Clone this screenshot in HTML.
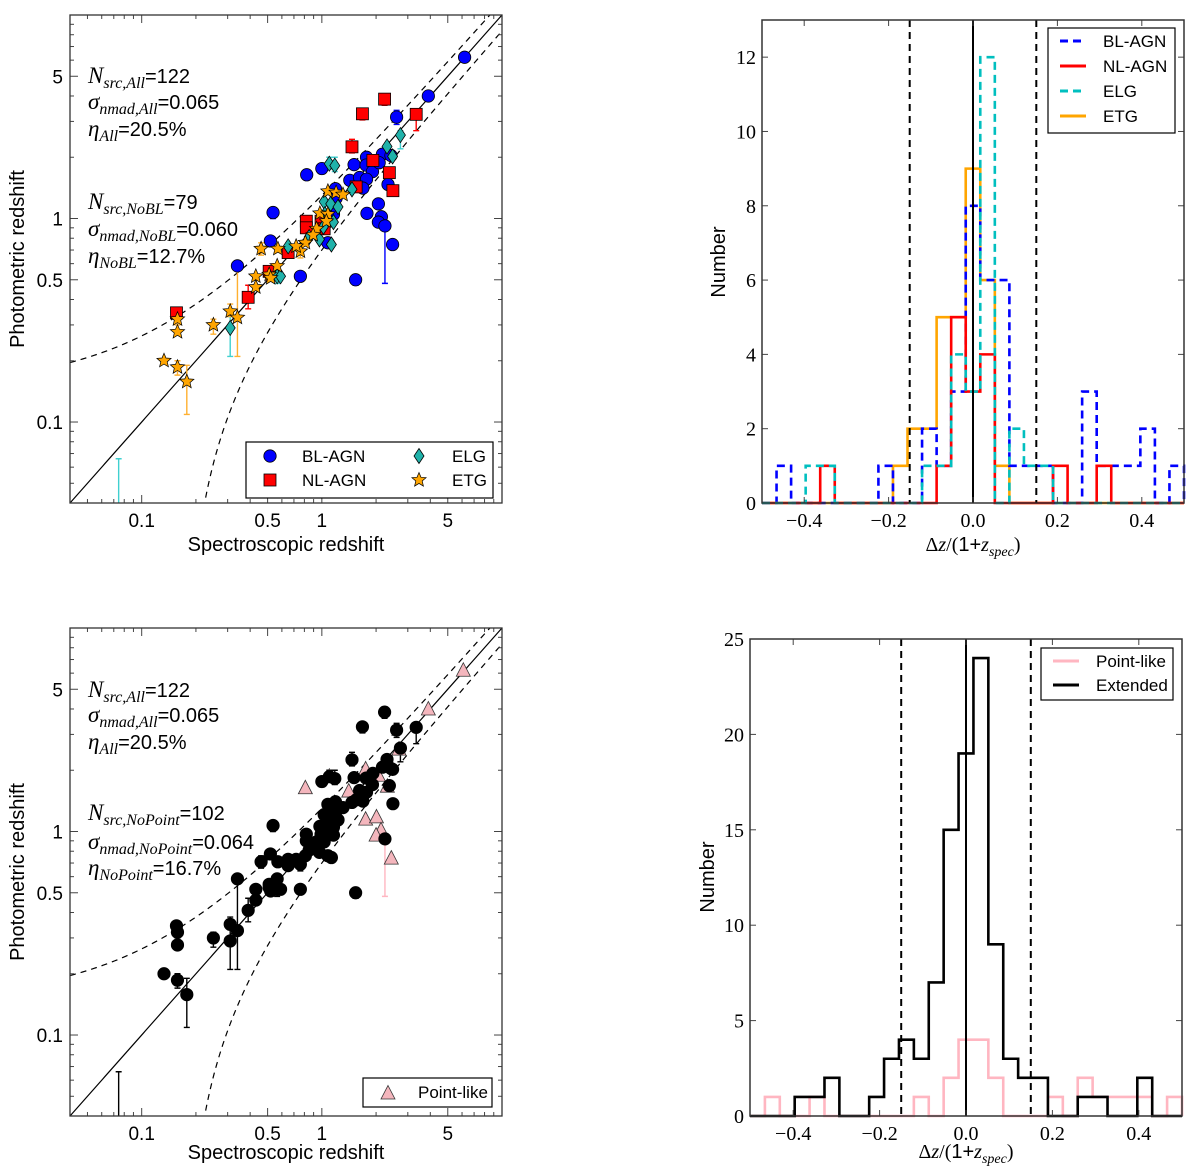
<!DOCTYPE html>
<html><head><meta charset="utf-8"><style>
html,body{margin:0;padding:0;background:#fff;width:1200px;height:1175px;overflow:hidden;}
svg{display:block;overflow:hidden;}
text{font-family:"Liberation Sans",sans-serif;}
.serif{font-family:"Liberation Serif",serif;}
</style></head><body>
<svg id="fig" xmlns="http://www.w3.org/2000/svg" width="1200" height="1175" viewBox="0 0 1200 1175">
<g id="pA"></g>
<g id="pB"></g>
<g id="pC"></g>
<g id="pD"></g>

<g font-size="20">
<text x="88" y="83"><tspan class="serif" font-style="italic" font-size="23">N</tspan><tspan class="serif" font-style="italic" font-size="16" dy="5">src,All</tspan><tspan dy="-5">=122</tspan></text>
<text x="88" y="109"><tspan class="serif" font-style="italic" font-size="23">σ</tspan><tspan class="serif" font-style="italic" font-size="16" dy="5">nmad,All</tspan><tspan dy="-5">=0.065</tspan></text>
<text x="88" y="136"><tspan class="serif" font-style="italic" font-size="23">η</tspan><tspan class="serif" font-style="italic" font-size="16" dy="5">All</tspan><tspan dy="-5">=20.5%</tspan></text>
<text x="88" y="209"><tspan class="serif" font-style="italic" font-size="23">N</tspan><tspan class="serif" font-style="italic" font-size="16" dy="5">src,NoBL</tspan><tspan dy="-5">=79</tspan></text>
<text x="88" y="236"><tspan class="serif" font-style="italic" font-size="23">σ</tspan><tspan class="serif" font-style="italic" font-size="16" dy="5">nmad,NoBL</tspan><tspan dy="-5">=0.060</tspan></text>
<text x="88" y="263"><tspan class="serif" font-style="italic" font-size="23">η</tspan><tspan class="serif" font-style="italic" font-size="16" dy="5">NoBL</tspan><tspan dy="-5">=12.7%</tspan></text>
</g>
<g font-size="20">
<text x="88" y="697"><tspan class="serif" font-style="italic" font-size="23">N</tspan><tspan class="serif" font-style="italic" font-size="16" dy="5">src,All</tspan><tspan dy="-5">=122</tspan></text>
<text x="88" y="722"><tspan class="serif" font-style="italic" font-size="23">σ</tspan><tspan class="serif" font-style="italic" font-size="16" dy="5">nmad,All</tspan><tspan dy="-5">=0.065</tspan></text>
<text x="88" y="749"><tspan class="serif" font-style="italic" font-size="23">η</tspan><tspan class="serif" font-style="italic" font-size="16" dy="5">All</tspan><tspan dy="-5">=20.5%</tspan></text>
<text x="88" y="820"><tspan class="serif" font-style="italic" font-size="23">N</tspan><tspan class="serif" font-style="italic" font-size="16" dy="5">src,NoPoint</tspan><tspan dy="-5">=102</tspan></text>
<text x="88" y="849"><tspan class="serif" font-style="italic" font-size="23">σ</tspan><tspan class="serif" font-style="italic" font-size="16" dy="5">nmad,NoPoint</tspan><tspan dy="-5">=0.064</tspan></text>
<text x="88" y="875"><tspan class="serif" font-style="italic" font-size="23">η</tspan><tspan class="serif" font-style="italic" font-size="16" dy="5">NoPoint</tspan><tspan dy="-5">=16.7%</tspan></text>
</g>

<text x="286" y="551" text-anchor="middle" font-size="20">Spectroscopic redshift</text>
<text x="286" y="1159" text-anchor="middle" font-size="20">Spectroscopic redshift</text>
<text transform="translate(24,259) rotate(-90)" text-anchor="middle" font-size="20">Photometric redshift</text>
<text transform="translate(24,872) rotate(-90)" text-anchor="middle" font-size="20">Photometric redshift</text>
<text transform="translate(725,262) rotate(-90)" text-anchor="middle" font-size="20">Number</text>
<text transform="translate(714,877) rotate(-90)" text-anchor="middle" font-size="20">Number</text>
<text x="973" y="551" text-anchor="middle" font-size="20"><tspan class="serif">Δ</tspan><tspan class="serif" font-style="italic">z</tspan><tspan class="serif">/(</tspan><tspan>1+</tspan><tspan class="serif" font-style="italic">z</tspan><tspan class="serif" font-style="italic" font-size="14" dy="5">spec</tspan><tspan class="serif" dy="-5">)</tspan></text>
<text x="966" y="1158" text-anchor="middle" font-size="20"><tspan class="serif">Δ</tspan><tspan class="serif" font-style="italic">z</tspan><tspan class="serif">/(</tspan><tspan>1+</tspan><tspan class="serif" font-style="italic">z</tspan><tspan class="serif" font-style="italic" font-size="14" dy="5">spec</tspan><tspan class="serif" dy="-5">)</tspan></text>
</svg>
<script>
// ---------- scatter data ----------
const blZs=[6.2,3.9,2.6,1.77,2.17,2.42,1.51,1.76,1.91,2.08,1.43,1.62,1.77,1.69,2.33,0.824,1.0,1.19,1.20,1.16,1.08,2.06,1.78,2.14,2.06,2.24,2.47,1.54,0.76,0.536,0.518,0.34];
const blZp=[6.2,4.0,3.15,2.0,2.07,2.04,1.84,1.83,1.70,1.88,1.54,1.59,1.56,1.41,1.47,1.64,1.76,1.40,1.26,1.05,0.76,1.18,1.06,1.02,0.96,0.92,0.745,0.50,0.52,1.07,0.776,0.585];
const nlZs=[2.23,1.68,3.34,1.47,1.92,2.37,2.48,1.55,0.82,0.82,0.99,1.03,0.65,0.51,0.39,0.156];
const nlZp=[3.86,3.27,3.25,2.25,1.93,1.68,1.37,1.43,0.97,0.90,0.97,0.89,0.68,0.55,0.41,0.344];
const elgZs=[2.73,2.30,2.47,1.10,1.18,1.47,1.03,1.12,1.23,1.04,1.16,1.02,0.97,1.13,0.65,0.85,0.565,0.59,0.31];
const elgZp=[2.57,2.26,2.02,1.86,1.82,1.39,1.21,1.18,1.14,1.05,0.96,0.91,0.79,0.745,0.73,0.81,0.52,0.52,0.29];
const etgZs=[1.08,1.2,1.31,0.975,1.08,1.06,0.935,0.895,0.81,0.76,0.72,0.46,0.57,0.565,0.51,0.52,0.43,0.43,0.31,0.34,0.25,0.158,0.158,0.133,0.158,0.178];
const etgZp=[1.36,1.34,1.31,1.06,1.05,0.97,0.89,0.83,0.76,0.69,0.73,0.71,0.71,0.585,0.53,0.51,0.52,0.46,0.35,0.326,0.30,0.32,0.277,0.20,0.186,0.158];
const blPointIdx=[0,1,3,9,10,14,15,21,22,23,24,26];
const ptZs=[6.1,3.9,2.68,0.81,1.10,1.41,1.75,2.06,2.31,1.75,2.01,2.13,2.0,2.43];
const ptZp=[6.2,4.0,2.54,1.64,1.87,1.58,2.03,1.89,1.67,1.15,1.18,1.02,0.96,0.74];
const ebCat=['bl','bl','bl','bl','nl','nl','nl','nl','nl','nl','elg','elg','elg','elg','elg','elg','etg','etg','etg','etg','etg','etg','etg','etg'];
const ebX=[2.6,2.24,1.54,0.535,2.23,1.68,3.34,1.47,0.39,0.51,2.73,1.10,1.18,0.31,0.0745,0.565,0.34,0.178,0.46,0.25,0.158,0.158,0.31,0.76];
const ebLo=[2.9,0.48,0.47,1.0,3.6,3.05,2.7,2.1,0.36,0.5,2.2,1.75,1.7,0.21,0.02,0.48,0.21,0.109,0.66,0.27,0.3,0.17,0.33,0.64];
const ebHi=[3.4,0.95,0.53,1.07,4.1,3.4,3.4,2.45,0.47,0.58,2.7,2.0,2.0,0.33,0.066,0.56,0.6,0.19,0.76,0.32,0.34,0.2,0.38,0.72];
const ebPointLower=[false,true,false,false,false,false,false,false,false,false,false,false,false,false,false,false,false,false,false,false,false,false,false,false];
const logTickVals=[0.1,0.5,1,5];
const logTickLabels=['0.1','0.5','1','5'];
// ---------- histogram data (29 bins over [-0.5,0.5]) ----------
const nBins=29, histMin=-0.5, histMax=0.5;
const histBL =[0,1,0,0,0,0,0,0,1,0,0,2,1,3,8,6,6,1,1,1,0,0,3,1,1,1,2,0,1];
const histNL =[0,0,0,0,1,0,0,0,0,0,0,0,1,5,3,4,0,0,0,0,1,0,0,1,0,0,0,0,0];
const histELG=[0,0,0,1,1,0,0,0,0,0,0,1,1,4,3,12,0,2,1,1,0,0,0,0,0,0,0,0,0];
const histETG=[0,0,0,0,0,0,0,0,0,1,2,2,5,5,9,6,1,0,0,0,0,0,0,0,0,0,0,0,0];
const histPoint=[0,1,0,0,1,0,0,0,0,0,0,1,0,2,4,4,2,0,0,0,1,0,2,1,1,1,1,0,1];
const histExt  =[0,0,0,1,1,2,0,0,1,3,4,3,7,15,19,24,9,3,2,2,0,0,1,1,0,0,2,0,0];
const histTicksX=[-0.4,-0.2,0.0,0.2,0.4];
const histTickLabelsX=['\u22120.4','\u22120.2','0.0','0.2','0.4'];
const histTicksYTop=[0,2,4,6,8,10,12];
const histTicksYBot=[0,5,10,15,20,25];
const outlierLimit=0.15;

const NS='http://www.w3.org/2000/svg';
function mk(tag,attrs,parent){const e=document.createElementNS(NS,tag);for(const k in attrs)e.setAttribute(k,attrs[k]);parent.appendChild(e);return e;}

function logAxes(g,x0,y0,w,h){
  const lmin=Math.log10(0.04),lmax=1;
  const fx=v=>x0+(Math.log10(v)-lmin)/(lmax-lmin)*w;
  const fy=v=>y0+h-(Math.log10(v)-lmin)/(lmax-lmin)*h;
  return {fx,fy,x0,y0,w,h};
}
function drawLogFrame(g,ax,prefix){
  const {fx,fy,x0,y0,w,h}=ax;
  const tk=mk('g',{},g);
  
  
  for(let d=-2;d<=1;d++)for(let m=1;m<=9;m++){
    const v=m*Math.pow(10,d); if(v<0.04-1e-9||v>10+1e-9)continue;
    const major=logTickVals.some(t=>Math.abs(t-v)<1e-9);
    const L=major?8:4;
    const X=fx(v),Y=fy(v);
    mk('line',{x1:X,y1:y0+h,x2:X,y2:y0+h-L,stroke:'#444','stroke-width':1},tk);
    mk('line',{x1:X,y1:y0,x2:X,y2:y0+L,stroke:'#444','stroke-width':1},tk);
    mk('line',{x1:x0,y1:Y,x2:x0+L,y2:Y,stroke:'#444','stroke-width':1},tk);
    mk('line',{x1:x0+w,y1:Y,x2:x0+w-L,y2:Y,stroke:'#444','stroke-width':1},tk);
  }
  logTickVals.forEach((v,i)=>{
    const t=mk('text',{x:fx(v),y:y0+h+24,'text-anchor':'middle','font-size':19},tk);t.textContent=logTickLabels[i];
    
    
    const u=mk('text',{x:x0-7,y:fy(v)+7,'text-anchor':'end','font-size':19},tk);u.textContent=logTickLabels[i];
    
    
  });
}
function drawRefLines(g,ax){
  const {fx,fy,x0,y0,w,h}=ax;
  const clip='clip'+Math.round(y0);
  const cp=mk('clipPath',{id:clip},g); mk('rect',{x:x0,y:y0,width:w,height:h},cp);
  const lg=mk('g',{'clip-path':'url(#'+clip+')'},g);
  let one='',up='',lo='';
  for(let i=0;i<=300;i++){
    const x=Math.pow(10,Math.log10(0.04)+i/300*(1-Math.log10(0.04)));
    one+=(i?'L':'M')+fx(x)+','+fy(x);
    up+=(i?'L':'M')+fx(x)+','+fy(x+outlierLimit*(1+x));
    const yl=x-outlierLimit*(1+x);
    if(yl>0.005) lo+=(lo?'L':'M')+fx(x)+','+fy(yl);
  }
  const a=mk('path',{d:one,fill:'none',stroke:'#000','stroke-width':1.2},lg);
  
  
  const b=mk('path',{d:up,fill:'none',stroke:'#000','stroke-width':1.2,'stroke-dasharray':'6,5'},lg);
  
  
  const c=mk('path',{d:lo,fill:'none',stroke:'#000','stroke-width':1.2,'stroke-dasharray':'6,5'},lg);
  
  
  return lg;
}
function starPath(cx,cy,R){
  const r=R*0.45;let d='';
  for(let i=0;i<10;i++){const a=-Math.PI/2+i*Math.PI/5;const rr=i%2?r:R;d+=(i?'L':'M')+(cx+rr*Math.cos(a)).toFixed(1)+','+(cy+rr*Math.sin(a)).toFixed(1);}
  return d+'Z';
}
function marker(g,kind,X,Y,fill,name){
  let e;
  if(kind==='circle') e=mk('circle',{cx:X,cy:Y,r:6.2,fill:fill,stroke:'#000','stroke-width':0.8},g);
  else if(kind==='square') e=mk('rect',{x:X-6,y:Y-6,width:12,height:12,fill:fill,stroke:'#000','stroke-width':0.8},g);
  else if(kind==='diamond') e=mk('path',{d:`M${X},${Y-7.5}L${X+5},${Y}L${X},${Y+7.5}L${X-5},${Y}Z`,fill:fill,stroke:'#000','stroke-width':0.8},g);
  else if(kind==='star') e=mk('path',{d:starPath(X,Y,7.5),fill:fill,stroke:'#000','stroke-width':0.7},g);
  else if(kind==='tri') e=mk('path',{d:`M${X},${Y-7.5}L${X+7},${Y+6}L${X-7},${Y+6}Z`,fill:fill,stroke:'#333','stroke-width':0.8},g);
  
  
  return e;
}
function errbar(g,ax,x,lo,hi,col){
  const X=ax.fx(x),A=ax.fy(lo),B=ax.fy(hi);
  const e=mk('path',{d:`M${X},${A}L${X},${B}M${X-3},${A}L${X+3},${A}M${X-3},${B}L${X+3},${B}`,stroke:col,'stroke-width':1.4,fill:'none'},g);
  
  
}
const catCol={bl:'#0000ff',nl:'#ff0000',elg:'#40d0d0',etg:'#ffb030'};

// ----- Panel A -----
(function(){
  const g=document.getElementById('pA');
  const ax=logAxes(g,70,15,432,488);
  const lg=drawRefLines(g,ax);
  ebX.forEach((x,i)=>errbar(lg,ax,x,ebLo[i],ebHi[i],catCol[ebCat[i]]));
  blZs.forEach((x,i)=>marker(lg,'circle',ax.fx(x),ax.fy(blZp[i]),'#0000ff','bl-agn-point'));
  nlZs.forEach((x,i)=>marker(lg,'square',ax.fx(x),ax.fy(nlZp[i]),'#ff0000','nl-agn-point'));
  elgZs.forEach((x,i)=>marker(lg,'diamond',ax.fx(x),ax.fy(elgZp[i]),'#20b2aa','elg-point'));
  etgZs.forEach((x,i)=>marker(lg,'star',ax.fx(x),ax.fy(etgZp[i]),'#ffa500','etg-point'));
  drawLogFrame(g,ax,'panel-a');
  const f=mk('rect',{x:70,y:15,width:432,height:488,fill:'none',stroke:'#333','stroke-width':1.3},g);
  
  
  const L=mk('g',{},g);
  
  
  mk('rect',{x:246,y:442,width:247,height:56,fill:'#fff',stroke:'#000','stroke-width':1.2},L);
  const ents=[['circle','#0000ff','BL-AGN',270,456,302],['square','#ff0000','NL-AGN',270,480,302],['diamond','#20b2aa','ELG',419,456,452],['star','#ffa500','ETG',419,480,452]];
  ents.forEach(e=>{
    const eg=mk('g',{},L);
    
    
    marker(eg,e[0],e[3],e[4],e[1],'legend-marker');
    const t=mk('text',{x:e[5],y:e[4]+6,'font-size':17},eg);t.textContent=e[2];
  });
})();

// ----- Panel C -----
(function(){
  const g=document.getElementById('pC');
  const ax=logAxes(g,70,628,432,488);
  const lg=drawRefLines(g,ax);
  ebX.forEach((x,i)=>errbar(lg,ax,x,ebLo[i],ebHi[i],ebPointLower[i]?'#ffb6c1':'#000'));
  ptZs.forEach((x,i)=>marker(lg,'tri',ax.fx(x),ax.fy(ptZp[i]),'#f4b6bd','point-like-point'));
  blZs.forEach((x,i)=>{ if(blPointIdx.indexOf(i)<0) marker(lg,'circle',ax.fx(x),ax.fy(blZp[i]),'#000','extended-point'); });
  nlZs.forEach((x,i)=>marker(lg,'circle',ax.fx(x),ax.fy(nlZp[i]),'#000','extended-point'));
  elgZs.forEach((x,i)=>marker(lg,'circle',ax.fx(x),ax.fy(elgZp[i]),'#000','extended-point'));
  etgZs.forEach((x,i)=>marker(lg,'circle',ax.fx(x),ax.fy(etgZp[i]),'#000','extended-point'));
  drawLogFrame(g,ax,'panel-c');
  const f=mk('rect',{x:70,y:628,width:432,height:488,fill:'none',stroke:'#333','stroke-width':1.3},g);
  
  
  const L=mk('g',{},g);
  
  
  mk('rect',{x:363,y:1078,width:129,height:29,fill:'#fff',stroke:'#000','stroke-width':1.2},L);
  marker(L,'tri',388,1093,'#f4b6bd','legend-marker');
  const t=mk('text',{x:418,y:1098,'font-size':17},L);t.textContent='Point-like';
})();

// ----- histogram helper -----
function histPanel(g,x0,y0,w,h,ymax,yTicks,series,prefix){
  const fx=v=>x0+(v-histMin)/(histMax-histMin)*w;
  const fy=v=>y0+h-v/ymax*h;
  const bw=(histMax-histMin)/nBins;
  series.forEach(s=>{
    let d='M'+fx(histMin)+','+fy(0);
    s.data.forEach((c,k)=>{d+='L'+fx(histMin+k*bw)+','+fy(c)+'L'+fx(histMin+(k+1)*bw)+','+fy(c);});
    d+='L'+fx(histMax)+','+fy(0);
    const p=mk('path',{d:d,fill:'none',stroke:s.color,'stroke-width':2.6,'stroke-dasharray':s.dash||'none'},g);
    
    
  });
  const v0=mk('line',{x1:fx(0),y1:y0,x2:fx(0),y2:y0+h,stroke:'#000','stroke-width':2},g);
  
  
  [-outlierLimit,outlierLimit].forEach(v=>{
    const l=mk('line',{x1:fx(v),y1:y0,x2:fx(v),y2:y0+h,stroke:'#000','stroke-width':2,'stroke-dasharray':'7,5'},g);
    
    
  });
  const tk=mk('g',{},g);
  
  
  histTicksX.forEach((v,i)=>{
    const X=fx(v);
    mk('line',{x1:X,y1:y0+h,x2:X,y2:y0+h-6,stroke:'#444'},tk);
    mk('line',{x1:X,y1:y0,x2:X,y2:y0+6,stroke:'#444'},tk);
    const t=mk('text',{x:X,y:y0+h+24,'text-anchor':'middle','font-size':20,class:'serif'},tk);t.textContent=histTickLabelsX[i];
  });
  yTicks.forEach(v=>{
    const Y=fy(v);
    mk('line',{x1:x0,y1:Y,x2:x0+6,y2:Y,stroke:'#444'},tk);
    mk('line',{x1:x0+w,y1:Y,x2:x0+w-6,y2:Y,stroke:'#444'},tk);
    const t=mk('text',{x:x0-6,y:Y+7,'text-anchor':'end','font-size':20,class:'serif'},tk);t.textContent=String(v);
  });
  const f=mk('rect',{x:x0,y:y0,width:w,height:h,fill:'none',stroke:'#333','stroke-width':1.5},g);
  
  
}
function histLegend(g,x,y,w,h,ents,name){
  const L=mk('g',{},g);
  
  
  mk('rect',{x:x,y:y,width:w,height:h,fill:'#fff',stroke:'#000','stroke-width':1.2},L);
  ents.forEach(e=>{
    const eg=mk('g',{},L);
    
    
    mk('line',{x1:x+12,y1:e.y,x2:x+38,y2:e.y,stroke:e.color,'stroke-width':3,'stroke-dasharray':e.dash||'none'},eg);
    const t=mk('text',{x:x+55,y:e.y+6,'font-size':17},eg);t.textContent=e.label;
  });
}
// ----- Panel B -----
(function(){
  const g=document.getElementById('pB');
  histPanel(g,762,20,422,483,13,histTicksYTop,[
    {data:histETG,color:'#ffa500',name:'hist-etg'},
    {data:histBL,color:'#0000ff',dash:'8,5',name:'hist-bl-agn'},
    {data:histNL,color:'#ff0000',name:'hist-nl-agn'},
    {data:histELG,color:'#00bfbf',dash:'8,5',name:'hist-elg'}
  ],'panel-b');
  histLegend(g,1048,28,127,105,[
    {label:'BL-AGN',color:'#0000ff',dash:'8,5',y:41},
    {label:'NL-AGN',color:'#ff0000',y:66},
    {label:'ELG',color:'#00bfbf',dash:'8,5',y:91},
    {label:'ETG',color:'#ffa500',y:116}],'legend-types-hist');
})();
// ----- Panel D -----
(function(){
  const g=document.getElementById('pD');
  histPanel(g,750,639,432,477,25,histTicksYBot,[
    {data:histPoint,color:'#ffb6c1',name:'hist-point-like'},
    {data:histExt,color:'#000',name:'hist-extended'}
  ],'panel-d');
  histLegend(g,1041,648,132,52,[
    {label:'Point-like',color:'#ffb6c1',y:661},
    {label:'Extended',color:'#000',y:685}],'legend-morphology-hist');
})();
</script>
</body></html>
